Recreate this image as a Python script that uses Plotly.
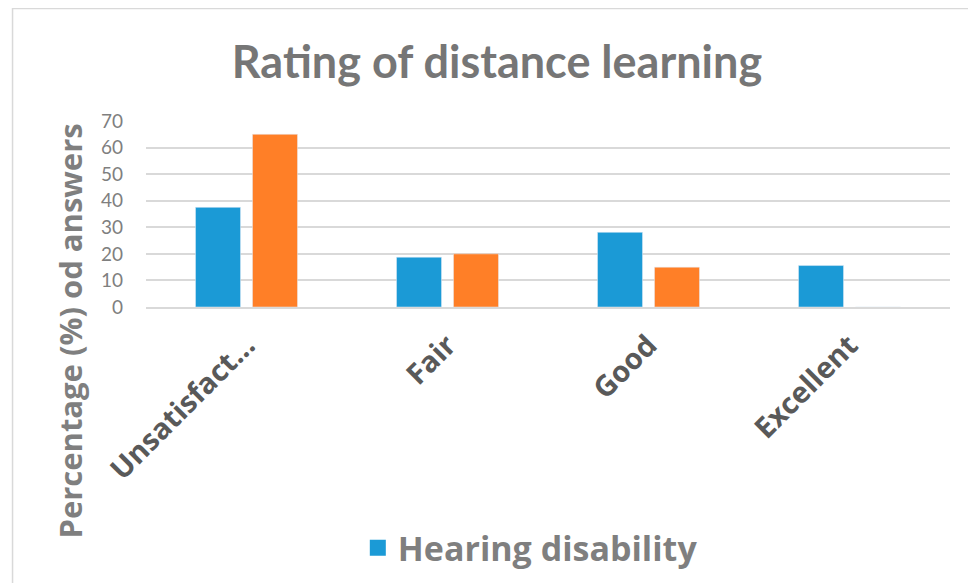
import plotly.graph_objects as go

categories = ["Unsatisfact...", "Fair", "Good", "Excellent"]
hearing = [37.5, 18.75, 28.1, 15.6]
other = [65, 20, 15, 0]
y_ticks = [0, 10, 20, 30, 40, 50, 60, 70]

TITLE_FONT = "Lato"
BODY_FONT = "Open Sans"
GREY = "#7f7f7f"
DARK = "#595959"
BLUE = "#1b9ad6"
ORANGE = "#ff7f27"

fig = go.Figure()
fig.add_trace(go.Bar(x=categories, y=hearing, name="Hearing disability",
                     marker=dict(color=BLUE), showlegend=False))
fig.add_trace(go.Bar(x=categories, y=other, name="Series 2",
                     marker=dict(color=ORANGE), showlegend=False))
# legend entry with a large square key
fig.add_trace(go.Scatter(x=[None], y=[None], mode="markers", name="<b>Hearing disability</b>",
                         marker=dict(symbol="square", size=22, color=BLUE),
                         showlegend=True, hoverinfo="skip"))

fig.update_layout(
    width=976, height=583,
    margin=dict(l=138, r=34, t=113, b=284),
    paper_bgcolor="white", plot_bgcolor="white",
    barmode="group", bargap=0.433, bargroupgap=0.21,
    font=dict(family=BODY_FONT, color=GREY),
    title=dict(text="<b>Rating of distance learning</b>", x=0.501, xanchor="center",
               y=0.907, yanchor="middle",
               font=dict(family=TITLE_FONT, size=45, color="#767676")),
    legend=dict(orientation="h", x=0.478, xanchor="center", y=-1.296, yanchor="middle",
                font=dict(family=BODY_FONT, size=34, color=GREY),
                itemsizing="trace", bgcolor="rgba(0,0,0,0)"),
    showlegend=True,
)
fig.update_yaxes(range=[0, 70], tickvals=y_ticks, showgrid=True, gridcolor="#d9d9d9",
                 gridwidth=1.5, zeroline=False, showline=False, ticks="",
                 tickfont=dict(family=TITLE_FONT, size=19, color=GREY), ticklabelstandoff=22)
fig.update_xaxes(showline=True, linecolor="#d9d9d9", linewidth=1.5, ticks="",
                 tickangle=-45, tickfont=dict(family=BODY_FONT, size=29, color=DARK),
                 tickprefix="<b>", ticksuffix="</b>", ticklabelstandoff=8)

fig.add_annotation(text="<b>Percentage (%) od answers</b>", textangle=-90,
                   xref="paper", yref="paper", x=-0.0945, y=-0.132,
                   xanchor="center", yanchor="middle", showarrow=False,
                   font=dict(family=BODY_FONT, size=31, color=GREY))

fig.add_shape(type="rect", xref="paper", yref="paper",
              x0=-0.166, x1=1.2, y0=-2.0, y1=1.605,
              line=dict(color="#d9d9d9", width=1.5), fillcolor="rgba(0,0,0,0)", layer="below")

fig.write_html("out.html")
